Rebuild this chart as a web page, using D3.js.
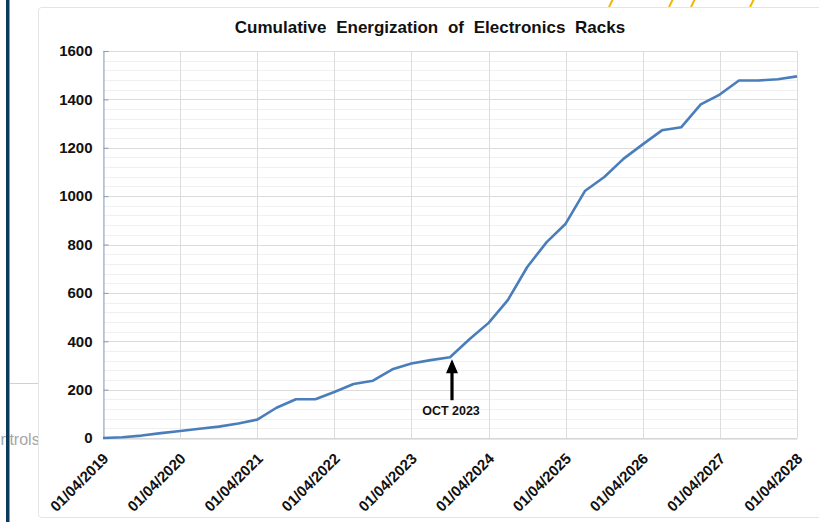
<!DOCTYPE html>
<html>
<head>
<meta charset="utf-8">
<script src="https://cdn.jsdelivr.net/npm/d3@7"></script>
<style>
  html, body { margin: 0; padding: 0; background: #ffffff; }
  svg { display: block; }
  text { font-family: "Liberation Sans", Arial, sans-serif; }
</style>
</head>
<body>
<svg id="chart" width="819" height="522"></svg>
<script>
// Quarter start dates for the cumulative count
const quarters = [
  "2019-04-01","2019-07-01","2019-10-01","2020-01-01",
  "2020-04-01","2020-07-01","2020-10-01","2021-01-01",
  "2021-04-01","2021-07-01","2021-10-01","2022-01-01",
  "2022-04-01","2022-07-01","2022-10-01","2023-01-01",
  "2023-04-01","2023-07-01","2023-10-01","2024-01-01",
  "2024-04-01","2024-07-01","2024-10-01","2025-01-01",
  "2025-04-01","2025-07-01","2025-10-01","2026-01-01",
  "2026-04-01","2026-07-01","2026-10-01","2027-01-01",
  "2027-04-01","2027-07-01","2027-10-01","2028-01-01",
  "2028-04-01"
];

// Cumulative number of energized racks at each quarter
const racksEnergized = [
  0, 3, 10, 20,
  29, 38, 47, 60,
  76, 125, 160, 160,
  190, 223, 237, 284,
  308, 322, 334, 408,
  476, 570, 707, 810,
  886, 1021, 1079, 1155,
  1214, 1272, 1285, 1379,
  1420, 1478, 1478, 1483,
  1495
];

// Year ticks along the time axis and their labels
const yearTicks = [
  "2019-04-01","2020-04-01","2021-04-01","2022-04-01","2023-04-01",
  "2024-04-01","2025-04-01","2026-04-01","2027-04-01","2028-04-01"
];
const yearTickLabels = [
  "01/04/2019","01/04/2020","01/04/2021","01/04/2022","01/04/2023",
  "01/04/2024","01/04/2025","01/04/2026","01/04/2027","01/04/2028"
];
const valueTicks = [0, 200, 400, 600, 800, 1000, 1200, 1400, 1600];

// Marked milestone
const milestoneDate = "2023-10-01";
const milestoneLabel = "OCT 2023";

const chartTitle = "Cumulative Energization of Electronics Racks";

const parse = d3.utcParse("%Y-%m-%d");
const series = quarters.map((q, i) => ({ date: parse(q), value: racksEnergized[i] }));
const tickDates = yearTicks.map(parse);

const svg = d3.select("#chart");

// ---- page surroundings ----
svg.append("rect").attr("x", 0).attr("y", 0).attr("width", 819).attr("height", 522).attr("fill", "#ffffff");

svg.append("line")
  .attr("x1", 10).attr("x2", 38).attr("y1", 383.5).attr("y2", 383.5)
  .attr("stroke", "#d0d0d0").attr("stroke-width", 1);

// sidebar caption running under the left rail
svg.append("text")
  .attr("x", 0.5).attr("y", 445)
  .attr("text-anchor", "start")
  .attr("font-size", 16)
  .attr("fill", "#a6a6a6")
  .text("ntrols");

svg.append("rect")
  .attr("x", 6).attr("y", 0).attr("width", 3.5).attr("height", 522)
  .attr("fill", "#0c3a5a");

// accent strokes along the top edge
[609, 669, 691, 750].forEach(px => {
  svg.append("line")
    .attr("x1", px).attr("y1", 7).attr("x2", px + 4).attr("y2", -1)
    .attr("stroke", "#f2b705").attr("stroke-width", 2);
});

// chart card
svg.append("rect")
  .attr("x", 38.5).attr("y", 7.5).attr("width", 800).attr("height", 510)
  .attr("rx", 3)
  .attr("fill", "#ffffff")
  .attr("stroke", "#e4e4e4").attr("stroke-width", 1);

// ---- plot ----
const plotLeft = 103, plotRight = 797, plotTop = 51, plotBottom = 438;

const x = d3.scaleUtc()
  .domain([tickDates[0], tickDates[tickDates.length - 1]])
  .range([plotLeft, plotRight]);

const y = d3.scaleLinear()
  .domain([0, 1600])
  .range([plotBottom, plotTop]);

const grid = svg.append("g");

// minor horizontal gridlines
grid.selectAll("line.minor")
  .data(d3.range(0, 1601, 40).filter(v => v % 200 !== 0))
  .join("line")
  .attr("class", "minor")
  .attr("x1", plotLeft).attr("x2", plotRight)
  .attr("y1", d => Math.round(y(d)) + 0.5).attr("y2", d => Math.round(y(d)) + 0.5)
  .attr("stroke", "#f0f0f0").attr("stroke-width", 1);

// major horizontal gridlines
grid.selectAll("line.major")
  .data(valueTicks)
  .join("line")
  .attr("class", "major")
  .attr("x1", plotLeft).attr("x2", plotRight)
  .attr("y1", d => Math.round(y(d)) + 0.5).attr("y2", d => Math.round(y(d)) + 0.5)
  .attr("stroke", "#dcdcdc").attr("stroke-width", 1);

// vertical gridlines at each year
grid.selectAll("line.vgrid")
  .data(tickDates)
  .join("line")
  .attr("class", "vgrid")
  .attr("x1", d => Math.round(x(d)) + 0.5).attr("x2", d => Math.round(x(d)) + 0.5)
  .attr("y1", plotTop).attr("y2", plotBottom)
  .attr("stroke", "#dcdcdc").attr("stroke-width", 1);

// y axis
const yAxis = svg.append("g")
  .attr("transform", `translate(${plotLeft + 0.5},0)`)
  .call(d3.axisLeft(y).tickValues(valueTicks).tickSize(-5).tickPadding(11).tickFormat(d3.format("d")));
yAxis.select(".domain").attr("stroke", "#9fb3c8").attr("stroke-width", 1.2);
yAxis.selectAll(".tick line").attr("stroke", "#8a9bb0");
yAxis.selectAll(".tick text")
  .attr("font-family", "'Liberation Sans', Arial, sans-serif")
  .attr("font-size", 15).attr("font-weight", "bold").attr("fill", "#111");

// x axis
const xAxis = svg.append("g")
  .attr("transform", `translate(0,${plotBottom + 0.5})`)
  .call(d3.axisBottom(x).tickValues(tickDates).tickSize(0)
    .tickFormat((d, i) => yearTickLabels[i]));
xAxis.select(".domain").attr("stroke", "#d0d0d0");
xAxis.selectAll(".tick text")
  .attr("font-family", "'Liberation Sans', Arial, sans-serif")
  .attr("font-size", 15).attr("font-weight", "bold").attr("fill", "#111")
  .attr("text-anchor", "end")
  .attr("dy", null)
  .attr("y", 0)
  .attr("transform", "translate(6,21) rotate(-45)");

// data line
const line = d3.line().x(d => x(d.date)).y(d => y(d.value));
svg.append("path")
  .datum(series)
  .attr("d", line)
  .attr("fill", "none")
  .attr("stroke", "#4a7ebb")
  .attr("stroke-width", 2.6)
  .attr("stroke-linejoin", "round");

// milestone arrow and label
const mDate = parse(milestoneDate);
const mPoint = series.find(d => +d.date === +mDate);
const ax = x(mDate) + 2, ay = y(mPoint.value) + 2;
const ann = svg.append("g");
ann.append("path")
  .attr("d", `M${ax},${ay} L${ax - 6},${ay + 14} L${ax + 6},${ay + 14} Z`)
  .attr("fill", "#000");
ann.append("rect")
  .attr("x", ax - 1.6).attr("y", ay + 12).attr("width", 3.2).attr("height", 29)
  .attr("fill", "#000");
ann.append("text")
  .attr("x", ax - 1).attr("y", ay + 56)
  .attr("text-anchor", "middle")
  .attr("font-size", 12.5).attr("font-weight", "bold").attr("fill", "#111")
  .text(milestoneLabel);

// title
svg.append("text")
  .attr("x", 430).attr("y", 33)
  .attr("text-anchor", "middle")
  .attr("font-size", 17).attr("font-weight", "bold").attr("fill", "#111")
  .attr("word-spacing", 5)
  .text(chartTitle);
</script>
</body>
</html>
